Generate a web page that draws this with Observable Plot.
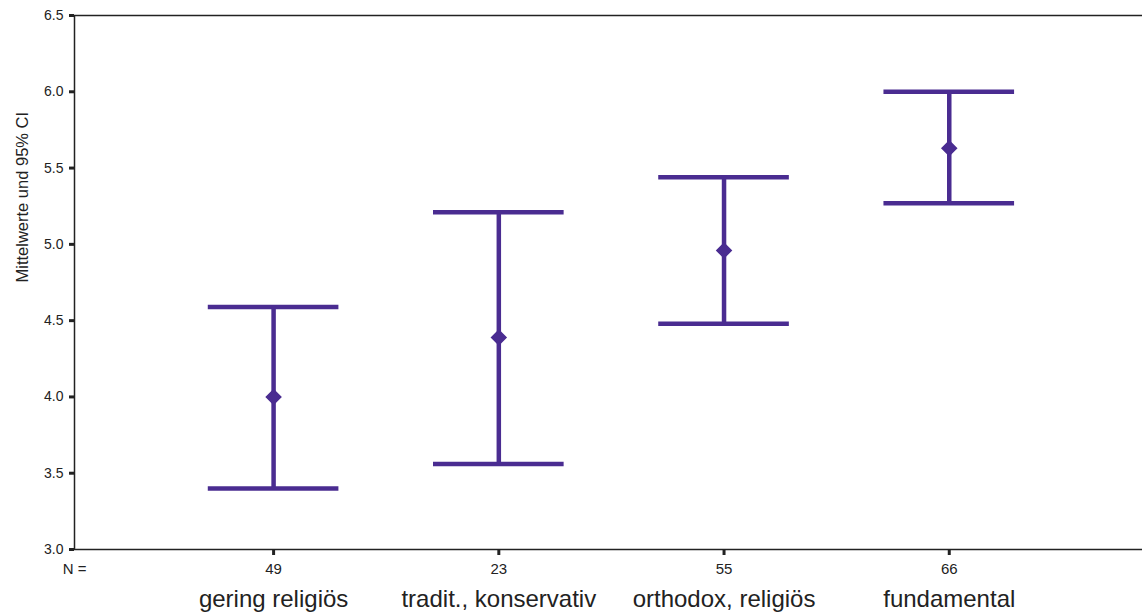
<!DOCTYPE html>
<html><head><meta charset="utf-8">
<script src="https://cdn.jsdelivr.net/npm/d3@7"></script>
<script src="https://cdn.jsdelivr.net/npm/@observablehq/plot@0.6"></script>
<style>body{margin:0;background:#fff;} svg{display:block;}</style>
</head><body><div id="chart"></div>
<script>
const categories = ["gering religiös", "tradit., konservativ", "orthodox, religiös", "fundamental"];
const nValues = [49, 23, 55, 66];
const means = [4.00, 4.39, 4.96, 5.63];
const lower = [3.40, 3.56, 4.48, 5.27];
const upper = [4.59, 5.21, 5.44, 6.00];
const yTicks = [3.0, 3.5, 4.0, 4.5, 5.0, 5.5, 6.0, 6.5];

const data = categories.map((c, i) => ({i: i + 1, cat: c, n: nValues[i], mean: means[i], lo: lower[i], hi: upper[i]}));
const color = "#4a2c91";
const capHalf = 0.29;
const xDomain = [0.116, 4.858];
const pxX = (xDomain[1] - xDomain[0]) / 1068; // data units per pixel (x)
const pxY = 3.5 / 534; // data units per pixel (y)

const plot = Plot.plot({
  width: 1142, height: 612,
  marginLeft: 74, marginRight: 0, marginTop: 15, marginBottom: 63,
  style: {fontFamily: "Liberation Sans, Arial, sans-serif", background: "#fff"},
  x: {type: "linear", domain: xDomain, axis: null},
  y: {domain: [3.0, 6.5], axis: null},
  marks: [
    Plot.ruleY([3.0, 6.5], {stroke: "#222", strokeWidth: 1.5}),
    Plot.ruleX([xDomain[0]], {stroke: "#222", strokeWidth: 1.5}),
    Plot.ruleY(yTicks, {y: d => d, x1: xDomain[0] - 5 * pxX, x2: xDomain[0], stroke: "#222", strokeWidth: 3}),
    Plot.text(yTicks, {x: xDomain[0], y: d => d, text: d => d.toFixed(1), textAnchor: "end", dx: -11, fontSize: 14, fill: "#222"}),
    Plot.text(["Mittelwerte und 95% CI"], {frameAnchor: "left", text: d => d, rotate: -90, dx: -52, fontSize: 16.5, fill: "#222"}),
    Plot.ruleX(data, {x: "i", y1: 3.0 - 6 * pxY, y2: 3.0, stroke: "#222", strokeWidth: 3}),
    Plot.ruleX(data, {x: "i", y1: "lo", y2: "hi", stroke: color, strokeWidth: 4.5}),
    Plot.ruleY(data, {y: "hi", x1: d => d.i - capHalf, x2: d => d.i + capHalf, stroke: color, strokeWidth: 4.5}),
    Plot.ruleY(data, {y: "lo", x1: d => d.i - capHalf, x2: d => d.i + capHalf, stroke: color, strokeWidth: 4.5}),
    Plot.dot(data, {x: "i", y: "mean", symbol: "diamond2", r: 6.5, fill: color, stroke: color}),
    Plot.text(data, {x: "i", y: 3.0, text: d => String(d.n), dy: 20, fontSize: 15, fill: "#222"}),
    Plot.text(["N ="], {x: xDomain[0], y: 3.0, text: d => d, dy: 20, textAnchor: "middle", fontSize: 15, fill: "#222"}),
    Plot.text(data, {x: "i", y: 3.0, text: "cat", dy: 50, fontSize: 24, fill: "#222"})
  ]
});
document.getElementById("chart").appendChild(plot);
</script>
</body></html>
